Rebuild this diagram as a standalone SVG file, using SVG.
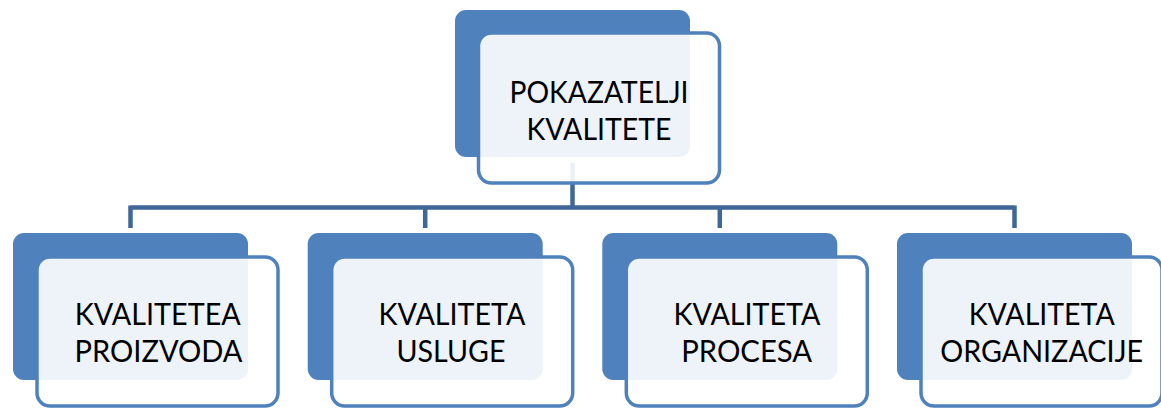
<svg xmlns="http://www.w3.org/2000/svg" width="1161" height="408" viewBox="0 0 1161 408">
<style>
.back{fill:#4F81BD;}
.front{fill:#FFFFFF;fill-opacity:0.9;stroke:#4F81BD;stroke-width:3.5;}
.conn{fill:none;stroke:#3F6899;stroke-width:4.5;}
.lbl{font-family:Lato,"Liberation Sans",sans-serif;font-size:30px;fill:#000000;text-anchor:middle;}
</style>
<rect width="1161" height="408" fill="#FFFFFF"/>
<g id="connectors">
<path class="conn" d="M572.5 163 V207.5 M130.5 207.5 H1014.5 M130.5 205.5 V228 M425.2 207.5 V228 M719.8 207.5 V228 M1014.5 205.5 V228"/>
</g>
<g id="node-root">
<rect class="back" x="455" y="10" width="235" height="147" rx="11"/>
<rect class="front" x="478.5" y="33" width="241" height="150" rx="13"/>
<text class="lbl" x="599" y="103.3" textLength="179" lengthAdjust="spacingAndGlyphs">POKAZATELJI</text>
<text class="lbl" x="599" y="140" textLength="145" lengthAdjust="spacingAndGlyphs">KVALITETE</text>
</g>
<g id="node-proizvoda">
<rect class="back" x="13" y="233" width="235" height="147" rx="11"/>
<rect class="front" x="37" y="257" width="241" height="149" rx="13"/>
<text class="lbl" x="157.8" y="325" textLength="166" lengthAdjust="spacingAndGlyphs">KVALITETEA</text>
<text class="lbl" x="158.5" y="362" textLength="168" lengthAdjust="spacingAndGlyphs">PROIZVODA</text>
</g>
<g id="node-usluge">
<rect class="back" x="307.7" y="233" width="235" height="147" rx="11"/>
<rect class="front" x="331.7" y="257" width="241" height="149" rx="13"/>
<text class="lbl" x="452" y="325" textLength="147" lengthAdjust="spacingAndGlyphs">KVALITETA</text>
<text class="lbl" x="451" y="362" textLength="109" lengthAdjust="spacingAndGlyphs">USLUGE</text>
</g>
<g id="node-procesa">
<rect class="back" x="602.3" y="233" width="235" height="147" rx="11"/>
<rect class="front" x="626.3" y="257" width="241" height="149" rx="13"/>
<text class="lbl" x="747" y="325" textLength="147" lengthAdjust="spacingAndGlyphs">KVALITETA</text>
<text class="lbl" x="746.7" y="362" textLength="131" lengthAdjust="spacingAndGlyphs">PROCESA</text>
</g>
<g id="node-organizacije">
<rect class="back" x="897" y="233" width="235" height="147" rx="11"/>
<rect class="front" x="921" y="257" width="241" height="149" rx="13"/>
<text class="lbl" x="1041.7" y="325" textLength="146" lengthAdjust="spacingAndGlyphs">KVALITETA</text>
<text class="lbl" x="1041.7" y="362" textLength="203" lengthAdjust="spacingAndGlyphs">ORGANIZACIJE</text>
</g>
</svg>
